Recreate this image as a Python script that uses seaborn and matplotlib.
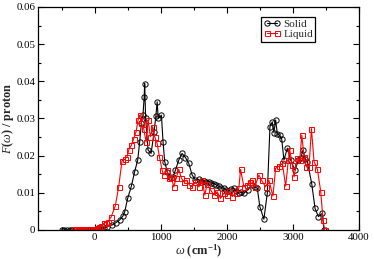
import numpy as np
import matplotlib
matplotlib.use("Agg")
import matplotlib.pyplot as plt
import seaborn as sns
from matplotlib.ticker import MultipleLocator, FuncFormatter

# Solid: frequency (cm^-1) and F(w) per proton
solid_w = [-500, -460, -420, -380, -340, -300, -260, -220, -180, -140, -100, -60, -20,
           20, 60, 100, 140, 190, 260, 322, 377, 428, 452, 498, 554, 604, 650, 680, 706,
           730, 748, 756, 770, 807, 853, 898, 925, 945, 960, 1009, 1034, 1059, 1100, 1146,
           1186, 1221, 1272, 1322, 1373, 1424, 1474, 1525, 1576, 1610, 1651, 1690, 1727,
           1765, 1803, 1840, 1879, 1915, 1955, 1990, 2030, 2070, 2106, 2140, 2182, 2220,
           2258, 2320, 2385, 2420, 2461, 2500, 2561, 2613, 2653, 2688, 2713, 2739, 2765,
           2800, 2830, 2865, 2916, 2967, 3032, 3083, 3120, 3154, 3190, 3220, 3286, 3336,
           3387, 3447, 3470]
solid_f = [0.0, 0.0, 0.0, 0.0, 0.0, 0.0, 0.0, 0.0, 0.0, 0.0, 0.0, 0.0001, 0.0001,
           0.0001, 0.0002, 0.0003, 0.0005, 0.0009, 0.0013, 0.0020, 0.0027, 0.0038, 0.0048,
           0.0085, 0.0118, 0.0157, 0.0188, 0.0237, 0.0288,
           0.0310, 0.0358, 0.0394, 0.0300, 0.0215, 0.0206, 0.0264, 0.0306, 0.0345, 0.0300,
           0.0309, 0.0237, 0.0184, 0.0155, 0.0142,
           0.0143, 0.0161, 0.0188, 0.0206, 0.0195, 0.0179, 0.0148, 0.0134, 0.0136, 0.0130,
           0.0133, 0.0128, 0.0130,
           0.0127, 0.0125, 0.0121, 0.0118, 0.0114, 0.0112, 0.0108, 0.0105, 0.0110, 0.0112,
           0.0104, 0.0099, 0.0101,
           0.0099, 0.0108, 0.0121, 0.0117, 0.0112, 0.0063, 0.0029, 0.0099, 0.0278, 0.0291,
           0.0262, 0.0296, 0.0258,
           0.0255, 0.0246, 0.0188, 0.0220, 0.0188, 0.0161, 0.0188, 0.0195, 0.0215, 0.0190,
           0.0184, 0.0124, 0.0058,
           0.0036, 0.0045, 0.0]

# Liquid
liquid_w = [-320, -290, -260, -230, -200, -170, -140, -110, -80, -50, -20, 10, 35, 58, 95,
            134, 165, 200, 250, 311, 362, 412, 453, 489, 514, 554, 590, 625, 655, 680, 706,
            741, 777, 807, 842, 877, 907, 944, 979, 1020, 1044, 1095, 1120, 1161, 1196, 1232,
            1272, 1313, 1348, 1389, 1434, 1474, 1525, 1576, 1627, 1666, 1703, 1753, 1803,
            1854, 1904, 1955, 2006, 2040, 2082, 2132, 2182, 2208, 2258, 2309, 2344, 2385,
            2425, 2485, 2526, 2587, 2637, 2698, 2739, 2790, 2841, 2891, 2932, 2952, 2993,
            3018, 3069, 3104, 3135, 3170, 3205, 3245, 3281, 3321, 3372, 3422, 3457, 3480]
liquid_f = [0.0002, 0.0002, 0.0002, 0.0002, 0.0002, 0.0002, 0.0002, 0.0002, 0.0002, 0.0003,
            0.0003, 0.0004, 0.0006, 0.0009, 0.0012,
            0.0018, 0.0020, 0.0022, 0.0036, 0.0065, 0.0116, 0.0186, 0.0190, 0.0197, 0.0215,
            0.0228, 0.0246, 0.0264, 0.0296, 0.0309, 0.0287,
            0.0273, 0.0237, 0.0296, 0.0251, 0.0278, 0.0251, 0.0233, 0.0197, 0.0161, 0.0148,
            0.0161, 0.0139, 0.0143, 0.0116, 0.0139,
            0.0163, 0.0139, 0.0130, 0.0134, 0.0121, 0.0116, 0.0130, 0.0116, 0.0134, 0.0094,
            0.0125, 0.0108, 0.0094,
            0.0103, 0.0085, 0.0099, 0.0094, 0.0104, 0.0090, 0.0099, 0.0112, 0.0163, 0.0116,
            0.0121, 0.0130, 0.0134,
            0.0116, 0.0148, 0.0134, 0.0116, 0.0134, 0.0091, 0.0166, 0.0172, 0.0179, 0.0118,
            0.0188, 0.0215, 0.0175,
            0.0143, 0.0193, 0.0188, 0.0255, 0.0197, 0.0170, 0.0170, 0.0273, 0.0184, 0.0163,
            0.0103, 0.0027, 0.0]

sns.set_theme(style="ticks")
plt.rcParams['font.family'] = ['Liberation Serif', 'DejaVu Serif']
plt.rcParams['mathtext.fontset'] = 'custom'
plt.rcParams['mathtext.rm'] = 'Liberation Serif'
plt.rcParams['mathtext.it'] = 'Liberation Serif:italic'
plt.rcParams['mathtext.bf'] = 'Liberation Serif:bold'

fig = plt.figure(figsize=(3.74, 2.59), dpi=100)
ax = fig.add_axes([0.1016, 0.112, 0.858, 0.861])

sns.lineplot(x=solid_w, y=solid_f, ax=ax, color='black', lw=0.8, marker='o', ms=3.8,
             mfc='none', mec='black', mew=0.7, estimator=None, sort=False, label='Solid')
sns.lineplot(x=liquid_w, y=liquid_f, ax=ax, color='red', lw=0.8, marker='s', ms=3.6,
             mfc='none', mec='red', mew=0.7, estimator=None, sort=False, label='Liquid')

ax.set_xlim(-860, 4000)
ax.set_ylim(0, 0.06)
ax.xaxis.set_major_locator(MultipleLocator(1000))
ax.xaxis.set_minor_locator(MultipleLocator(500))
ax.yaxis.set_major_locator(MultipleLocator(0.01))
ax.yaxis.set_minor_locator(MultipleLocator(0.005))
ax.yaxis.set_major_formatter(FuncFormatter(lambda v, p: '%g' % round(v, 3)))
ax.tick_params(which='both', direction='in', top=True, right=True, labelsize=7.8,
               width=0.8, pad=2, colors='black')
ax.tick_params(which='major', length=4)
ax.tick_params(which='minor', length=2)
for s in ax.spines.values():
    s.set_linewidth(0.9)
    s.set_color('black')

ax.set_xlabel(r'$\omega$ (cm$^{\mathbf{-1}}$)', fontsize=9, fontweight='bold', labelpad=0.5)
ax.set_ylabel(r'$\mathit{F}$($\omega$) / proton', fontsize=8.8, fontweight='bold')
ax.yaxis.set_label_coords(-0.068, 0.5)

leg = ax.legend(loc='upper left', bbox_to_anchor=(0.695, 0.955), fontsize=8, frameon=True,
                fancybox=False, edgecolor='black', framealpha=1, handlelength=1.5,
                numpoints=2, handletextpad=0.3, borderpad=0.2, labelspacing=0.05,
                borderaxespad=0)
leg.get_frame().set_linewidth(0.9)

fig.savefig('out.png', dpi=100)
